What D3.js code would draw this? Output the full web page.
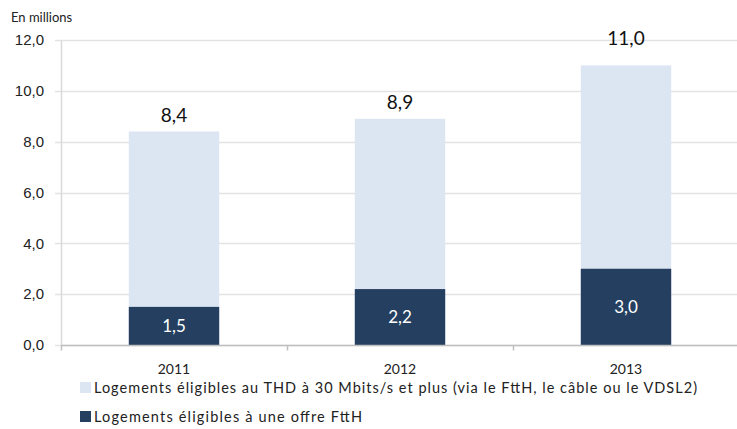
<!DOCTYPE html>
<html>
<head>
<meta charset="utf-8">
<script src="https://cdn.jsdelivr.net/npm/d3@7"></script>
<style>
  body { margin: 0; background: #fff; }
  svg { font-family: Lato, "Open Sans", sans-serif; }
</style>
</head>
<body>
<div id="chart"></div>
<script>
const years = ['2011', '2012', '2013'];
const thdTotal = [8.4, 8.9, 11.0];
const ftth = [1.5, 2.2, 3.0];
const yTicks = [0, 2, 4, 6, 8, 10, 12];
const legendLabels = [
    'Logements éligibles au THD à 30 Mbits/s et plus (via le FttH, le câble ou le VDSL2)',
    'Logements éligibles à une offre FttH'
];

const width = 737;
const height = 429;
const LIGHT = '#dce6f2';
const DARK = '#243f60';
const fmt = v => d3.format('.1f')(v).replace('.', ',');

const svg = d3.select('#chart')
    .append('svg')
    .attr('width', width)
    .attr('height', height);

const x = d3.scaleBand()
    .domain(years)
    .range([61, 739])
    .paddingInner(0.6)
    .paddingOuter(0.3);

const y = d3.scaleLinear()
    .domain([0, 12])
    .range([345, 40]);

// gridlines
svg.append('g')
    .selectAll('line')
    .data(yTicks)
    .join('line')
    .attr('x1', 55)
    .attr('x2', width)
    .attr('y1', d => Math.round(y(d)) + 0.5)
    .attr('y2', d => Math.round(y(d)) + 0.5)
    .attr('stroke', '#e3e3e3')
    .attr('stroke-width', 1.5);

// y axis
const yAxis = svg.append('g')
    .attr('transform', 'translate(61,0)')
    .call(d3.axisLeft(y).tickValues(yTicks).tickFormat(fmt).tickSize(0).tickPadding(17));
yAxis.select('.domain').attr('stroke', '#d9d9d9').attr('stroke-width', 1.5);
yAxis.selectAll('text').attr('font-size', 15).attr('fill', '#222');

// bars
const g = svg.append('g');
g.selectAll('.thd')
    .data(years)
    .join('rect')
    .attr('class', 'thd')
    .attr('x', d => x(d))
    .attr('width', x.bandwidth())
    .attr('y', (d, i) => y(thdTotal[i]))
    .attr('height', (d, i) => y(0) - y(thdTotal[i]))
    .attr('fill', LIGHT);

g.selectAll('.ftth')
    .data(years)
    .join('rect')
    .attr('class', 'ftth')
    .attr('x', d => x(d))
    .attr('width', x.bandwidth())
    .attr('y', (d, i) => y(ftth[i]))
    .attr('height', (d, i) => y(0) - y(ftth[i]))
    .attr('fill', DARK);

// x axis
const xAxis = svg.append('g')
    .attr('transform', 'translate(0,345.5)');
xAxis.append('line')
    .attr('x1', 61).attr('x2', width)
    .attr('stroke', '#bfbfbf').attr('stroke-width', 1.5);
const step = x.step();
xAxis.selectAll('.tick')
    .data(d3.range(years.length + 1))
    .join('line')
    .attr('x1', i => 61 + i * step + 0.5)
    .attr('x2', i => 61 + i * step + 0.5)
    .attr('y1', 0).attr('y2', 5)
    .attr('stroke', '#bfbfbf').attr('stroke-width', 1.5);
xAxis.selectAll('text')
    .data(years)
    .join('text')
    .attr('x', d => x(d) + x.bandwidth() / 2)
    .attr('y', 28)
    .attr('text-anchor', 'middle')
    .attr('font-size', 14)
    .attr('fill', '#222')
    .text(d => d);

// value labels
g.selectAll('.ftth-label')
    .data(years)
    .join('text')
    .attr('x', d => x(d) + x.bandwidth() / 2)
    .attr('y', (d, i) => (y(ftth[i]) + y(0)) / 2 + 6)
    .attr('text-anchor', 'middle')
    .attr('font-size', 17)
    .attr('fill', '#fff')
    .text((d, i) => fmt(ftth[i]));

g.selectAll('.total-label')
    .data(years)
    .join('text')
    .attr('x', d => x(d) + x.bandwidth() / 2)
    .attr('y', (d, i) => y(thdTotal[i]) - (i === 2 ? 20 : 10))
    .attr('text-anchor', 'middle')
    .attr('font-size', 19)
    .attr('fill', '#111')
    .text((d, i) => fmt(thdTotal[i]));

// unit
svg.append('text')
    .attr('x', 11).attr('y', 22)
    .attr('font-size', 13)
    .attr('fill', '#222')
    .text('En millions');

// legend
const legend = svg.append('g');
const legendWidths = [603, 268];
[LIGHT, DARK].forEach((c, i) => {
    const ly = 388 + i * 29;
    legend.append('rect')
        .attr('x', 80).attr('y', ly - 6)
        .attr('width', 11).attr('height', 11)
        .attr('fill', c);
    legend.append('text')
        .attr('x', 94).attr('y', ly + 5)
        .attr('font-size', 14.5)
        .attr('fill', '#222')
        .attr('textLength', legendWidths[i])
        .attr('lengthAdjust', 'spacing')
        .text(legendLabels[i]);
});
</script>
</body>
</html>
